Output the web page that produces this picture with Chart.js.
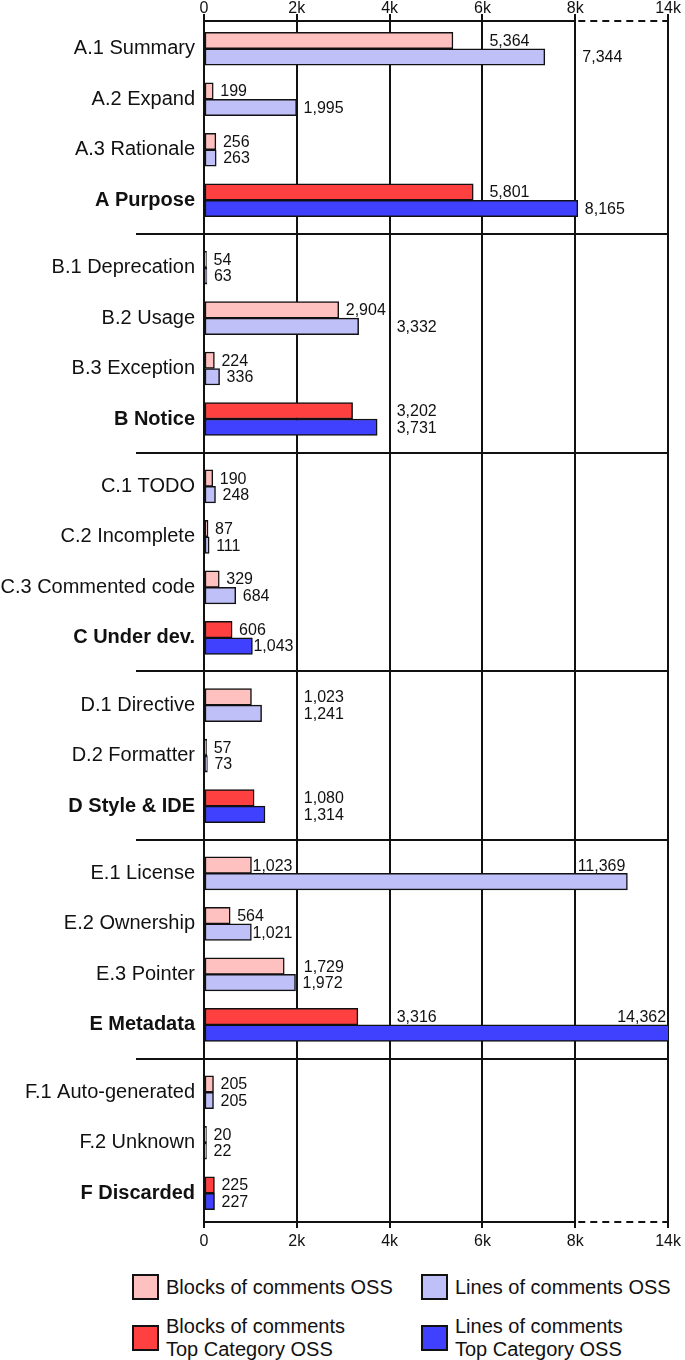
<!DOCTYPE html>
<html>
<head>
<meta charset="utf-8">
<script src="https://cdn.jsdelivr.net/npm/chart.js@4.4.1/dist/chart.umd.min.js"></script>
<style>
  body { margin: 0; background: #fff; font-family: "Liberation Sans", Arial, sans-serif; color: #111; }
  #wrap { width: 685px; }
  canvas { display: block; }
  #legend { display: grid; grid-template-columns: 289px auto; row-gap: 15px; padding-left: 132px; margin-top: 12px; font-size: 20px; line-height: 23px; }
  .item { display: flex; align-items: center; }
  .box { width: 23px; height: 22px; border: 2px solid #111; margin-right: 7px; flex: none; }
  .txt { white-space: pre-line; }
</style>
</head>
<body>
<div id="wrap">
  <canvas id="chart" width="685" height="1262"></canvas>
  <div id="legend"></div>
</div>
<script>
// rows, top to bottom
const rowLabels = [
  'A.1 Summary', 'A.2 Expand', 'A.3 Rationale', 'A Purpose',
  'B.1 Deprecation', 'B.2 Usage', 'B.3 Exception', 'B Notice',
  'C.1 TODO', 'C.2 Incomplete', 'C.3 Commented code', 'C Under dev.',
  'D.1 Directive', 'D.2 Formatter', 'D Style & IDE',
  'E.1 License', 'E.2 Ownership', 'E.3 Pointer', 'E Metadata',
  'F.1 Auto-generated', 'F.2 Unknown', 'F Discarded'
];
const topRows = ['A Purpose', 'B Notice', 'C Under dev.', 'D Style & IDE', 'E Metadata', 'F Discarded'];

const blocks = [5364, 199, 256, 5801, 54, 2904, 224, 3202, 190, 87, 329, 606,
  1023, 57, 1080, 1023, 564, 1729, 3316, 205, 20, 225];
const lines = [7344, 1995, 263, 8165, 63, 3332, 336, 3731, 248, 111, 684, 1043,
  1241, 73, 1314, 11369, 1021, 1972, 14362, 205, 22, 227];

const xTicks = [0, 2000, 4000, 6000, 8000, 14000];
const axisBreak = 8000;   // axis is compressed past this value

// row positions on the y axis, with a small extra gap between letter groups
const groupGap = 1 / 3;
const groups = [...new Set(rowLabels.map(l => l[0]))];
const rowPos = rowLabels.map((l, i) => i + groups.indexOf(l[0]) * groupGap);
const isTop = rowLabels.map(l => topRows.includes(l));

// linear scale with a break: ticks evenly spaced, last segment squeezed
class BrokenLinearScale extends Chart.LinearScale {
  buildTicks() {
    return xTicks.map(v => ({ value: v }));
  }
  toDecimal(v) {
    const brk = xTicks.indexOf(axisBreak) / (xTicks.length - 1);
    if (v <= axisBreak) return (v - this.min) / (axisBreak - this.min) * brk;
    return brk + (v - axisBreak) / (this.max - axisBreak) * (1 - brk);
  }
  getPixelForValue(v) {
    return this.getPixelForDecimal(this.toDecimal(v));
  }
  getValueForPixel(p) {
    const d = this.getDecimalForPixel(p);
    const brk = xTicks.indexOf(axisBreak) / (xTicks.length - 1);
    if (d <= brk) return this.min + d / brk * (axisBreak - this.min);
    return axisBreak + (d - brk) / (1 - brk) * (this.max - axisBreak);
  }
}
BrokenLinearScale.id = 'brokenLinear';
BrokenLinearScale.defaults = Chart.LinearScale.defaults;
Chart.register(BrokenLinearScale);

Chart.defaults.font.family = '"Liberation Sans", Arial, sans-serif';
Chart.defaults.color = '#111';

const points = (vals, top) => vals
  .map((v, i) => ({ x: v, y: rowPos[i] }))
  .filter((p, i) => isTop[i] === top);

// group separators and the top/bottom axis lines (dashed over the break)
const frame = {
  id: 'frame',
  afterDatasetsDraw(chart) {
    const { ctx, chartArea: a, scales: { x, y } } = chart;
    ctx.save();
    ctx.strokeStyle = '#111';
    ctx.lineWidth = 2;
    for (let i = 1; i < rowLabels.length; i++) {
      if (rowLabels[i][0] === rowLabels[i - 1][0]) continue;
      const py = Math.round(y.getPixelForValue((rowPos[i] + rowPos[i - 1]) / 2));
      ctx.beginPath();
      ctx.moveTo(136, py);
      ctx.lineTo(a.right, py);
      ctx.stroke();
    }
    const xb = x.getPixelForValue(axisBreak);
    [a.top, a.bottom].forEach(py => {
      ctx.setLineDash([]);
      ctx.beginPath();
      ctx.moveTo(a.left, py);
      ctx.lineTo(xb, py);
      ctx.stroke();
      ctx.setLineDash([7, 5]);
      ctx.beginPath();
      ctx.moveTo(xb + 3, py);
      ctx.lineTo(a.right, py);
      ctx.stroke();
    });
    ctx.restore();
  }
};

// value labels to the right of each bar, moved clear of grid lines
const valueLabels = {
  id: 'valueLabels',
  afterDraw(chart) {
    const { ctx, chartArea: a, scales: { x } } = chart;
    const gridX = x.ticks.map((t, i) => x.getPixelForTick(i));
    const crossing = (tx, w) => gridX.find(px => px > tx - 1 && px < tx + w);
    ctx.save();
    ctx.font = '16px "Liberation Sans", Arial, sans-serif';
    ctx.fillStyle = '#111';
    ctx.textBaseline = 'middle';

    const rows = {};
    chart.data.datasets.forEach((ds, di) => {
      chart.getDatasetMeta(di).data.forEach((bar, i) => {
        const text = ds.data[i].x.toLocaleString('en-US');
        const w = ctx.measureText(text).width;
        const end = Math.min(bar.x, a.right);
        const lab = { text, y: bar.y + 1, tx: end + 7, align: 'left', mode: 'plain' };
        if (lab.tx + w > a.right) {
          Object.assign(lab, { tx: end - 2, y: bar.y - bar.height + 1, align: 'right', mode: 'inside' });
        } else {
          let g = crossing(lab.tx, w);
          if (g && end + 1 + w <= g - 3) {
            lab.tx = end + 1;
            lab.mode = 'tight';
          } else if (g) {
            while (g) { lab.tx = g + 7; g = crossing(lab.tx, w); }
            lab.mode = 'shifted';
          }
        }
        const key = ds.data[i].y;
        (rows[key] = rows[key] || []).push(lab);
      });
    });

    Object.values(rows).forEach(labs => {
      const shifted = labs.find(l => l.mode === 'shifted');
      labs.forEach(l => {
        if (shifted && l.mode === 'tight') l.tx = shifted.tx;
        ctx.textAlign = l.align;
        ctx.fillText(l.text, l.tx, l.y);
      });
    });
    ctx.restore();
  }
};

const tickFmt = v => v === 0 ? '0' : v / 1000 + 'k';

const chart = new Chart(document.getElementById('chart'), {
  type: 'bar',
  data: {
    datasets: [
      { label: 'Blocks of comments OSS', data: points(blocks, false), backgroundColor: '#FFC0C0', stack: 'blocks' },
      { label: 'Lines of comments OSS', data: points(lines, false), backgroundColor: '#C0C0F8', stack: 'lines' },
      { label: 'Blocks of comments\nTop Category OSS', data: points(blocks, true), backgroundColor: '#FF4040', stack: 'blocks' },
      { label: 'Lines of comments\nTop Category OSS', data: points(lines, true), backgroundColor: '#4040FF', stack: 'lines' }
    ]
  },
  options: {
    indexAxis: 'y',
    responsive: false,
    devicePixelRatio: 1,
    animation: false,
    layout: { padding: { left: 0, right: 14, top: 0, bottom: 0 } },
    datasets: {
      bar: { barThickness: 16.5, minBarLength: 2.5, borderColor: '#111', borderWidth: 1.5, borderSkipped: false, clip: 0 }
    },
    scales: {
      x: {
        type: 'brokenLinear', position: 'top', min: 0, max: 14000,
        grid: { color: '#111', lineWidth: 2, tickLength: 7 },
        border: { display: false },
        ticks: { font: { size: 16 }, color: '#111', padding: -4, autoSkip: false, maxRotation: 0, callback: tickFmt },
        afterFit: s => { s.height = 20; }
      },
      x2: {
        type: 'brokenLinear', position: 'bottom', axis: 'x', min: 0, max: 14000,
        grid: { color: '#111', lineWidth: 2, tickLength: 6, drawOnChartArea: false },
        border: { display: false },
        ticks: { font: { size: 16 }, color: '#111', padding: 4, autoSkip: false, maxRotation: 0, callback: tickFmt },
        afterFit: s => { s.height = 40; }
      },
      y: {
        type: 'linear', reverse: true, offset: false,
        min: -0.55, max: rowPos[rowPos.length - 1] + 0.57,
        afterBuildTicks: s => { s.ticks = rowPos.map(v => ({ value: v })); },
        grid: { display: false, drawTicks: false },
        border: { display: false },
        ticks: {
          autoSkip: false, padding: 9, color: '#111',
          callback: (v, i) => rowLabels[i],
          font: c => ({ size: 20, weight: topRows.includes(rowLabels[c.index]) ? 'bold' : 'normal' })
        },
        afterFit: s => { s.width = 204; }
      }
    },
    plugins: {
      legend: { display: false },
      tooltip: { enabled: false }
    }
  },
  plugins: [frame, valueLabels]
});

// legend built from the datasets, two columns
const legend = document.getElementById('legend');
chart.data.datasets.forEach(ds => {
  const item = document.createElement('div');
  item.className = 'item';
  const box = document.createElement('span');
  box.className = 'box';
  box.style.background = ds.backgroundColor;
  const txt = document.createElement('span');
  txt.className = 'txt';
  txt.textContent = ds.label;
  item.append(box, txt);
  legend.appendChild(item);
});
</script>
</body>
</html>
